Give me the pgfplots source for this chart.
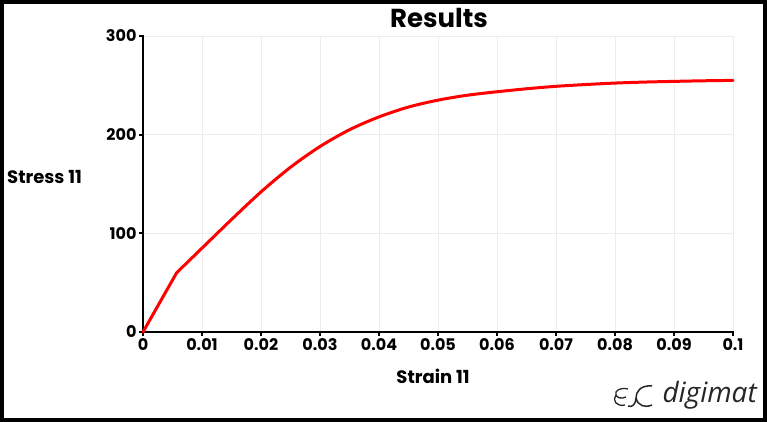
\documentclass[border=0pt]{standalone}
\usepackage{pgfplots}
\pgfplotsset{compat=1.18}
\usepackage{fontspec}
\setmainfont{Poppins}
\newfontfamily\logofont{Open Sans}
\definecolor{gridgray}{RGB}{236,236,236}
\begin{document}
\begin{tikzpicture}
\useasboundingbox (0,0) rectangle (767pt,422pt);
\fill[white] (0,0) rectangle (767pt,422pt);
\begin{axis}[
  at={(143pt,90pt)}, anchor=south west,
  scale only axis, width=590pt, height=296pt,
  xmin=0, xmax=0.1, ymin=0, ymax=300,
  xtick={0,0.01,...,0.1}, ytick={0,100,200,300},
  xticklabels={0,0.01,0.02,0.03,0.04,0.05,0.06,0.07,0.08,0.09,0.1},
  axis x line=bottom, axis y line=left,
  axis line style={-, line width=2.6pt, line cap=rect},
  tick style={black, line width=2.2pt},
  tick align=outside, major tick length=4pt,
  grid=major, major grid style={gridgray, line width=0.8pt},
  /pgf/number format/assume math mode=true,
  ticklabel style={font=\fontsize{16}{18}\selectfont\bfseries},
  xticklabel style={yshift=1pt},
  yticklabel style={xshift=1pt},
  clip=false,
]
\addplot[red, line width=3pt, line cap=round] coordinates {(0,0) (0.0057,60)};
\addplot[red, line width=3pt, smooth, tension=0.5, line cap=round] coordinates {
(0.0057,60) (0.01,85) (0.015,114) (0.02,142) (0.025,167) (0.03,188)
(0.035,205) (0.04,218) (0.045,228) (0.05,235) (0.055,240) (0.06,243.5)
(0.065,246.5) (0.07,249) (0.075,250.8) (0.08,252.3) (0.085,253.3) (0.09,254)
(0.095,254.6) (0.1,255)};
\end{axis}
\node[font=\fontsize{26}{28}\selectfont\bfseries] at (439pt,404pt) {Results};
\node[font=\fontsize{18}{20}\selectfont\bfseries, anchor=west, inner sep=0pt] at (7pt,245pt) {Stress 11};
\node[font=\fontsize{18}{20}\selectfont\bfseries] at (433pt,46pt) {Strain 11};
\node[font=\fontsize{28}{30}\selectfont\logofont\itshape, text=black!85, anchor=east, inner sep=0pt] at (757pt,27pt) {digimat};
\draw[black!85, line width=1.3pt] (628pt,33pt) .. controls (620pt,35pt) and (614pt,31pt) .. (616pt,27pt)
  .. controls (617pt,24pt) and (622pt,23pt) .. (626pt,25pt)
  (616pt,27pt) .. controls (612pt,22pt) and (616pt,15pt) .. (625pt,17pt);
\draw[black!85, line width=1.5pt] (652pt,36pt) .. controls (640pt,37pt) and (636pt,30pt) .. (636pt,24pt)
  .. controls (636pt,18pt) and (632pt,14pt) .. (628pt,16pt)
  (636pt,24pt) .. controls (638pt,16pt) and (645pt,14pt) .. (652pt,17pt);
\draw[black, line width=4pt] (2pt,2pt) rectangle (765pt,420pt);
\end{tikzpicture}
\end{document}
